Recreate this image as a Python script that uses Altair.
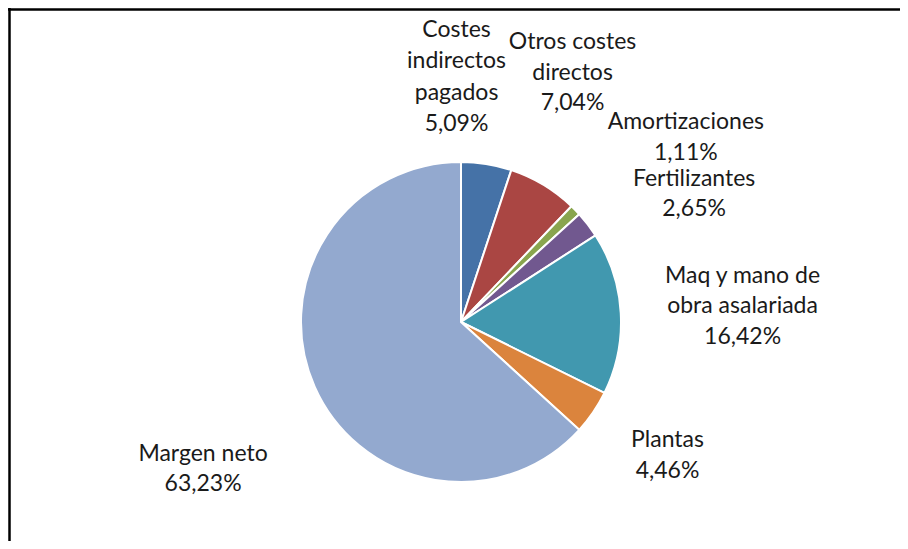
import math
import altair as alt
import pandas as pd

# ---- data ----
categories = [
    "Costes indirectos pagados",
    "Otros costes directos",
    "Amortizaciones",
    "Fertilizantes",
    "Maq y mano de obra asalariada",
    "Plantas",
    "Margen neto",
]
label_names = [
    "Costes\nindirectos\npagados",
    "Otros costes\ndirectos",
    "Amortizaciones",
    "Fertilizantes",
    "Maq y mano de\nobra asalariada",
    "Plantas",
    "Margen neto",
]
values = [5.09, 7.04, 1.11, 2.65, 16.42, 4.46, 63.23]
colors = ["#4572A7", "#AA4643", "#89A54E", "#71588F", "#4198AF", "#DB843D", "#93A9CF"]

df = pd.DataFrame({
    "idx": list(range(len(categories))),
    "cat": categories,
    "value": values,
    "label": [n + "\n" + f"{v:.2f}".replace(".", ",") + "%" for n, v in zip(label_names, values)],
})

W, H = 892, 533
CX, CY = 453, 314
R = 160
FONT = "Lato"
LH = 30.5

theta_scale = alt.Scale(domain=[0, 100], range=[0, 2 * math.pi])
base = alt.Chart(df)

pie = base.mark_arc(radius=R, stroke="white", strokeWidth=2).encode(
    theta=alt.Theta("value:Q", stack=True, scale=theta_scale),
    order=alt.Order("idx:Q"),
    color=alt.Color("cat:N", sort=categories,
                    scale=alt.Scale(domain=categories, range=colors), legend=None),
    x=alt.value(CX),
    y=alt.value(CY),
)

# label placement tweaks (radius in px, angular offset in radians) per slice
placement = [(245, -0.178), (273, -0.120), (291, 0.086), (266, 0.153),
             (282, 0.0), (246, -0.025), (297, -0.103)]

text_base = base.transform_window(
    cum="sum(value)", sort=[alt.SortField("idx")], frame=[None, 0]
).transform_calculate(mid="datum.cum - datum.value / 2")

text_layers = []
for i, (rad, dth) in enumerate(placement):
    n_lines = label_names[i].count("\n") + 2
    lh = 31.5 if n_lines == 4 else LH
    t = text_base.transform_filter(alt.datum.idx == i).mark_text(
        radius=rad, thetaOffset=dth, dy=-(n_lines - 1) * lh / 2,
        font=FONT, fontSize=23, lineBreak="\n",
        lineHeight=lh, align="center", baseline="middle", color="#1a1a1a",
    ).encode(
        theta=alt.Theta("mid:Q", scale=theta_scale),
        text="label:N",
        x=alt.value(CX),
        y=alt.value(CY),
    )
    text_layers.append(t)

frame_df = pd.DataFrame({"a": [0]})
top_rule = alt.Chart(frame_df).mark_rule(color="black", strokeWidth=2.5).encode(
    x=alt.value(0), x2=alt.value(W), y=alt.value(1.5))
left_rule = alt.Chart(frame_df).mark_rule(color="black", strokeWidth=2.5).encode(
    x=alt.value(1.5), y=alt.value(0), y2=alt.value(H))

chart = alt.layer(pie, *text_layers, top_rule, left_rule).properties(
    width=W, height=H, padding=0,
    autosize=alt.AutoSizeParams(type="none"),
    background="white",
).configure_view(stroke=None)

chart.save("out.html", embed_options={"renderer": "svg", "actions": False})
